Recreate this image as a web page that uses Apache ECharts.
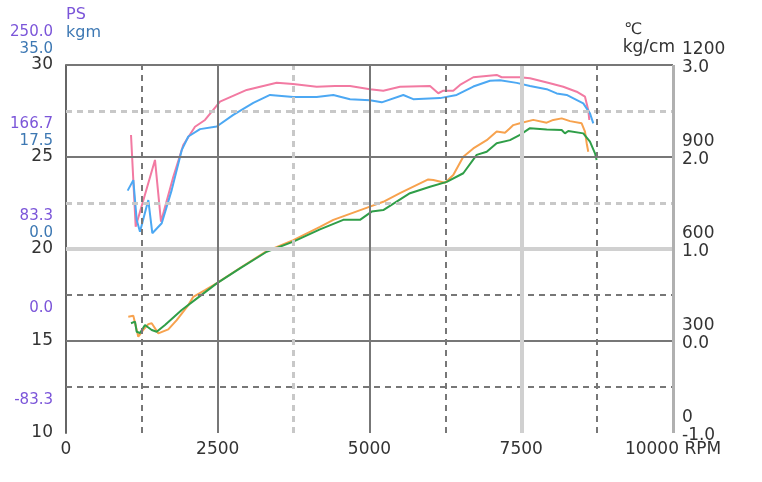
<!DOCTYPE html>
<html><head><meta charset="utf-8">
<script src="https://cdn.jsdelivr.net/npm/echarts@6/dist/echarts.min.js"></script>
<style>html,body{margin:0;padding:0;background:#fff}#c{width:762px;height:482px}</style>
</head><body><div id="c"></div>
<script>
// ---- data ----
const psRpm = [1071,1148,1466,1565,1768,1932,2125,2290,2537,2977,3471,3740,4130,4432,4679,5008,5227,5502,5997,6133,6216,6380,6491,6710,7095,7178,7479,7644,7973,8192,8413,8550,8604,8621];
const psVal = [186.6,103.5,164.0,108.1,148.8,177.5,194.1,200.2,216.8,227.4,234.0,232.8,230.3,231.0,231.0,228.0,226.7,230.3,231.0,224.4,226.7,226.7,231.9,238.9,241.0,238.9,238.9,238.0,233.4,230.3,225.8,221.3,209.3,200.2];
const tqRpm = [1016,1109,1165,1219,1356,1422,1577,1741,1906,2015,2208,2483,2756,3086,3361,3745,4130,4404,4679,5008,5201,5557,5721,6161,6436,6710,6985,7150,7425,7644,7919,8084,8248,8522,8632,8687];
const tqVal = [11.1,13.1,5.5,3.3,9.3,3.0,4.9,11.2,18.8,21.4,22.8,23.3,25.5,27.8,29.3,28.9,28.9,29.3,28.5,28.3,27.9,29.3,28.5,28.7,29.3,30.9,32.0,32.1,31.6,31.0,30.4,29.6,29.3,27.7,25.8,23.9];
const egt1Rpm = [1026,1109,1191,1273,1356,1412,1521,1685,1824,2015,2097,2290,2487,2866,3306,3745,4184,4404,5008,5227,5502,5968,6051,6244,6380,6545,6710,6931,7095,7232,7314,7369,7479,7698,7919,8028,8166,8303,8495,8550,8578,8604];
const egt1Val = [379,382,314,336,355,358,325,338,368,417,444,466,489,538,593,629,672,695,738,754,782,827,825,816,841,901,928,955,983,979,994,1004,1010,1021,1012,1021,1026,1017,1010,983,945,917];
const egt2Rpm = [1071,1137,1165,1219,1301,1412,1494,1631,1906,2125,2483,2866,3306,3745,4184,4568,4843,5036,5227,5667,5997,6272,6545,6766,6931,7095,7314,7479,7644,7919,8166,8220,8275,8522,8632,8715,8742];
const egt2Val = [358,363,330,326,352,336,330,352,401,434,488,537,591,624,664,695,695,722,727,782,803,819,847,907,917,945,955,972,994,990,988,977,985,977,950,912,890];

const hGrid = [12.5, 15, 17.5, 20, 22.5, 25, 27.5];
const vGrid = [1250, 2500, 3750, 5000, 6250, 7500, 8750];
const hKind = ['dashDark','solidDark','dashDark','solidLight','dashLight','solidDark','dashLight'];
const vKind = ['dashDark','solidDark','dashLight','solidDark','dashDark','solidLight','dashDark'];

const styles = {
  dashDark:  {color:'#777', width:2, type:[6,5]},
  dashLight: {color:'#c8c8c8', width:3, type:[6,5]},
  solidDark: {color:'#777', width:2, type:'solid'},
  solidLight:{color:'#d0d0d0', width:4, type:'solid'}
};

const FONT = 'DejaVu Sans';
const pair = (xs, ys) => xs.map((x, i) => [x, ys[i]]);

const markData = [];
hGrid.forEach((v, i) => markData.push({yAxis: v, lineStyle: styles[hKind[i]]}));
vGrid.forEach((v, i) => markData.push({xAxis: v, lineStyle: styles[vKind[i]]}));
markData.push({yAxis: 30, lineStyle: {color:'#777', width:2, type:'solid'}});
markData.push({xAxis: 10000, lineStyle: {color:'#b0b0b0', width:3, type:'solid'}});

const noAxisParts = {axisLine:{show:false}, axisTick:{show:false}, splitLine:{show:false}};

const option = {
  animation: false,
  backgroundColor: '#fff',
  grid: {left: 66, top: 65, right: 89, bottom: 49, containLabel: false, outerBoundsMode: 'none'},
  xAxis: {
    type: 'value', min: 0, max: 10000, interval: 2500,
    axisLine: {show: true, lineStyle: {color: '#666', width: 2}},
    axisTick: {show: false}, splitLine: {show: false},
    axisLabel: {
      color: '#333', fontFamily: FONT, fontSize: 17, margin: 8,
      formatter: v => v === 10000 ? '10000 RPM' : String(v)
    }
  },
  yAxis: [
    { // 0: main scale
      type: 'value', position: 'left', min: 10, max: 30, interval: 5,
      axisLine: {show: true, lineStyle: {color: '#666', width: 2}},
      axisTick: {show: false}, splitLine: {show: false},
      axisLabel: {color: '#333', fontFamily: FONT, fontSize: 17, margin: 13, verticalAlign: 'middle'}
    },
    Object.assign({ // 1: PS
      type: 'value', position: 'left', min: -250/3, max: 250, interval: 250/3,
      name: 'PS', nameLocation: 'end', nameGap: 42,
      nameTextStyle: {color: '#7b55d9', fontFamily: FONT, fontSize: 16, align: 'left'},
      axisLabel: {color: '#7b55d9', fontFamily: FONT, fontSize: 15, margin: 13, verticalAlign: 'bottom', lineHeight: 65,
        formatter: v => v.toFixed(1)}
    }, noAxisParts),
    Object.assign({ // 2: kgm
      type: 'value', position: 'left', min: -35, max: 35, interval: 17.5,
      name: 'kgm', nameLocation: 'end', nameGap: 24,
      nameTextStyle: {color: '#3d78b3', fontFamily: FONT, fontSize: 16, align: 'left'},
      axisLabel: {color: '#3d78b3', fontFamily: FONT, fontSize: 15, margin: 13, verticalAlign: 'bottom', lineHeight: 32,
        formatter: v => v < 0 ? '' : v.toFixed(1)}
    }, noAxisParts),
    Object.assign({ // 3: kg/cm
      type: 'value', position: 'right', min: -1, max: 3, interval: 1,
      name: 'kg/cm', nameLocation: 'end', nameGap: 9,
      nameTextStyle: {color: '#333', fontFamily: FONT, fontSize: 17, align: 'right', padding: [0,-2,0,0]},
      axisLabel: {color: '#333', fontFamily: FONT, fontSize: 17, margin: 9, verticalAlign: 'top', lineHeight: 5,
        formatter: v => v.toFixed(1)}
    }, noAxisParts),
    Object.assign({ // 4: degC
      type: 'value', position: 'right', min: 0, max: 1200, interval: 300,
      name: '℃', nameLocation: 'end', nameGap: 27,
      nameTextStyle: {color: '#333', fontFamily: FONT, fontSize: 16, align: 'right', padding: [0,31,0,0]},
      axisLabel: {color: '#333', fontFamily: FONT, fontSize: 17, margin: 9, verticalAlign: 'bottom', lineHeight: 31,
        formatter: v => String(v)}
    }, noAxisParts)
  ],
  series: [
    {type: 'line', xAxisIndex: 0, yAxisIndex: 0, data: [], z: 1, silent: true,
      markLine: {silent: true, symbol: 'none', label: {show: false}, animation: false, data: markData}},
    {type: 'line', name: 'EGT1', yAxisIndex: 4, data: pair(egt1Rpm, egt1Val), showSymbol: false, symbol: 'none', z: 3,
      lineStyle: {color: '#f7a24e', width: 2}},
    {type: 'line', name: 'EGT2', yAxisIndex: 4, data: pair(egt2Rpm, egt2Val), showSymbol: false, symbol: 'none', z: 3,
      lineStyle: {color: '#2f9e48', width: 2}},
    {type: 'line', name: 'PS', yAxisIndex: 1, data: pair(psRpm, psVal), showSymbol: false, symbol: 'none', z: 3,
      lineStyle: {color: '#f27aa2', width: 2}},
    {type: 'line', name: 'kgm', yAxisIndex: 2, data: pair(tqRpm, tqVal), showSymbol: false, symbol: 'none', z: 3,
      lineStyle: {color: '#4ca8f3', width: 2}}
  ]
};
echarts.init(document.getElementById('c'), null, {renderer: 'canvas'}).setOption(option);
</script>
</body></html>
